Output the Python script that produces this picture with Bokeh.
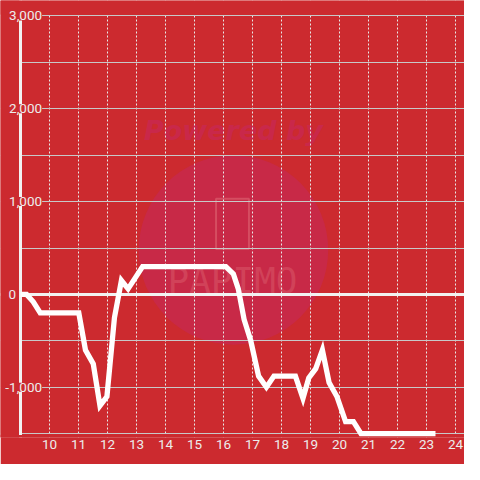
from bokeh.plotting import figure
from bokeh.models import Range1d, FixedTicker, Span, LabelSet, ColumnDataSource, Label, BoxAnnotation
from bokeh.core.properties import value
from bokeh.embed import file_html
from bokeh.resources import INLINE

# ---- data ----
hours = [9.0, 9.21, 9.44, 9.68, 11.01, 11.24, 11.51, 11.74, 11.98, 12.24, 12.48,
         12.71, 13.21, 16.08, 16.34, 16.51, 16.71, 16.94, 17.21, 17.48, 17.74,
         18.48, 18.74, 18.94, 19.18, 19.41, 19.64, 19.91, 20.21, 20.48, 20.74, 23.31]
balance = [0, 0, -80, -200, -200, -600, -750, -1200, -1100, -250, 150,
           60, 300, 300, 220, 60, -270, -500, -880, -1000, -880,
           -880, -1120, -900, -800, -600, -950, -1100, -1370, -1370, -1500, -1500]
x_ticks = list(range(10, 25))
y_grid_ticks = list(range(-1500, 3001, 500))
y_label_values = [-1000, 1000, 2000, 3000]
y_label_texts = ["-1,000", "1,000", "2,000", "3,000"]
zero_label = "0"

RED = "#cc2a2f"
FONT = "Roboto"
TXT = "#ececec"
X0, X1 = 8.3103, 24.31
Y0, Y1 = -1542, 3167

p = figure(width=464, height=464, x_range=Range1d(X0, X1), y_range=Range1d(Y0, Y1),
           output_backend="svg", toolbar_location=None, y_axis_location=None,
           min_border_left=0, min_border_right=0, min_border_top=0, min_border_bottom=27,
           background_fill_color=RED, border_fill_color=RED, outline_line_color=None)

# watermark placement helpers (reference picture pixel -> data space)
def wx(px):
    return 10 + (px - 50.7) / 30.0

def wy(py):
    return (304 - py) * 500 / 48.0

# watermark
p.circle(x=[wx(241)], y=[wy(258)], radius=98 / 30.0, fill_color="#c8294a",
         fill_alpha=0.9, line_color=None, level="image")
p.text(x=[wx(241)], y=[wy(134)], text=["Powered by"], text_font=value("DejaVu Sans"),
       text_font_style="bold italic", text_font_size="27px", text_color="#c9284a",
       text_align="center", text_baseline="middle", level="image")
p.rect(x=[wx(240)], y=[wy(231)], width=34 / 30.0, height=52 * 500 / 48.0,
       fill_color=None, line_color="#da5c6c", line_width=2, line_alpha=0.7, level="image")
p.text(x=[wx(240)], y=[wy(290)], text=["PAPIMO"], text_font=value("DejaVu Sans Mono"),
       text_font_size="36px", text_color="#da5c6c", text_alpha=0.5,
       text_align="center", text_baseline="middle", level="image")

# grids
p.ygrid.ticker = FixedTicker(ticks=y_grid_ticks)
p.ygrid.grid_line_color = "#c8c8c8"
p.ygrid.grid_line_width = 1
p.xgrid.ticker = FixedTicker(ticks=x_ticks)
p.xgrid.grid_line_color = "#e8e8e8"
p.xgrid.grid_line_dash = "2 2"
p.xgrid.grid_line_width = 1

# x axis
p.xaxis.ticker = FixedTicker(ticks=x_ticks)
p.xaxis.axis_line_color = None
p.xaxis.major_tick_line_color = None
p.xaxis.minor_tick_line_color = None
p.xaxis.major_tick_out = 0
p.xaxis.major_label_standoff = 2
p.xaxis.major_label_text_color = TXT
p.xaxis.major_label_text_font = FONT
p.xaxis.major_label_text_font_size = "13.5px"

# zero line, masks outside the plotting area, y axis line
p.add_layout(Span(location=0, dimension="width", line_color="#f2f2f2", line_width=3, level="underlay"))
p.add_layout(BoxAnnotation(right=hours[0], fill_color=RED, fill_alpha=1.0, line_color=None, level="underlay"))
p.add_layout(Span(location=hours[0], dimension="height", line_color="#f2f2f2", line_width=3, level="underlay"))
p.add_layout(BoxAnnotation(bottom=y_grid_ticks[-1] + 16, fill_color=RED, fill_alpha=1.0, line_color=None, level="underlay"))
p.add_layout(BoxAnnotation(top=y_grid_ticks[0] - 16, fill_color=RED, fill_alpha=1.0, line_color=None, level="underlay"))

# main series
p.line(hours, balance, line_color="white", line_width=5.3, line_join="miter")

# y labels
src = ColumnDataSource(dict(y=y_label_values, text=y_label_texts))
p.add_layout(LabelSet(x=hours[0], y="y", text="text", source=src, x_offset=21.6,
                      text_align="right", text_baseline="middle",
                      text_font=value(FONT), text_font_size="13.5px", text_color=TXT,
                      background_fill_color=RED, background_fill_alpha=1.0))
p.add_layout(Label(x=hours[0], y=0, text=zero_label, x_offset=-4.5, text_align="right",
                   text_baseline="middle", text_font=FONT, text_font_size="13.5px",
                   text_color=TXT))

open("out.html", "w").write(file_html(p, INLINE))
